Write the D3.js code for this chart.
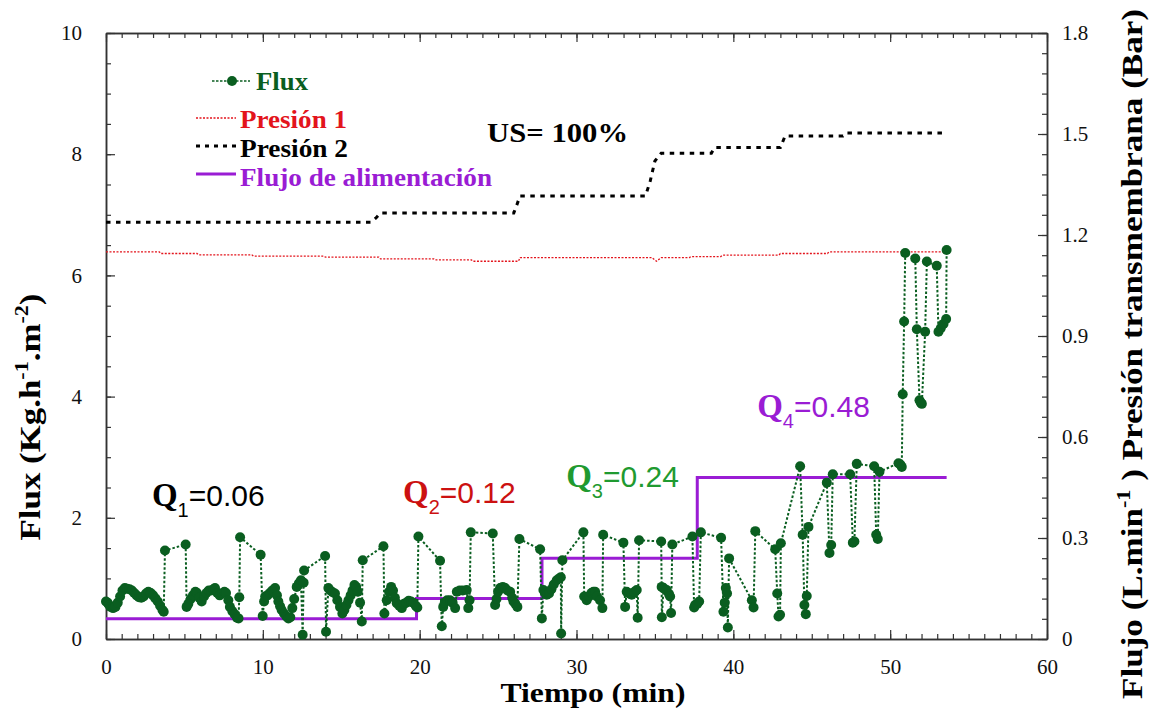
<!DOCTYPE html>
<html>
<head>
<meta charset="utf-8">
<script src="https://cdn.jsdelivr.net/npm/d3@7"></script>
<style>
  body { margin: 0; background: #fff; }
  svg { display: block; }
  text { font-family: "Liberation Serif", "Times New Roman", serif; }
</style>
</head>
<body>
<svg id="chart"></svg>
<script>
// ---- data ----
// flux samples: [tiempo (min), flux (Kg.h-1.m-2)]
const fluxData = [
  [0.0,0.62],[0.1,0.6],[0.2,0.56],[0.3,0.53],[0.45,0.51],[0.6,0.53],[0.75,0.6],[0.9,0.7],[1.05,0.8],[1.2,0.84],
  [1.35,0.83],[1.5,0.82],[1.65,0.8],[1.8,0.76],[1.95,0.72],[2.1,0.69],[2.25,0.68],[2.4,0.7],[2.55,0.75],[2.7,0.78],
  [2.85,0.76],[3.0,0.72],[3.15,0.67],[3.3,0.62],[3.45,0.55],[3.6,0.48],[3.68,0.45],
  [3.76,1.46],[5.08,1.56],
  [5.14,0.53],[5.25,0.58],[5.4,0.66],[5.55,0.72],[5.7,0.78],[5.8,0.76],[5.95,0.68],[6.1,0.62],[6.25,0.7],[6.4,0.76],
  [6.55,0.8],[6.7,0.8],[6.85,0.82],[6.95,0.84],[7.1,0.76],[7.25,0.72],[7.4,0.75],[7.55,0.78],[7.65,0.76],[7.8,0.64],
  [7.9,0.53],[8.05,0.46],[8.2,0.41],[8.35,0.35],[8.45,0.34],[8.5,0.69],
  [8.55,1.68],[9.86,1.39],
  [9.99,0.38],[10.08,0.62],[10.15,0.7],[10.3,0.72],[10.45,0.76],[10.6,0.8],[10.78,0.84],[10.9,0.72],[10.99,0.62],
  [11.1,0.54],[11.2,0.48],[11.35,0.42],[11.5,0.37],[11.63,0.34],[11.75,0.36],[11.88,0.51],[12.0,0.66],[12.16,0.86],
  [12.3,0.92],[12.43,0.97],[12.54,0.07],[12.6,0.93],[12.63,1.13],
  [13.97,1.37],
  [14.03,0.12],[14.18,0.84],[14.3,0.8],[14.45,0.77],[14.6,0.75],[14.75,0.64],[14.92,0.53],[15.07,0.42],[15.2,0.48],
  [15.33,0.56],[15.46,0.64],[15.6,0.72],[15.72,0.8],[15.84,0.89],[15.95,0.86],[16.05,0.78],[16.2,0.6],[16.31,0.29],
  [16.37,1.30],[17.69,1.53],
  [17.75,0.42],[17.9,0.64],[18.05,0.78],[18.18,0.86],[18.3,0.8],[18.42,0.68],[18.54,0.59],[18.7,0.55],[18.86,0.51],
  [19.0,0.58],[19.15,0.6],[19.3,0.63],[19.45,0.62],[19.6,0.6],[19.75,0.55],[19.85,0.52],
  [19.92,1.69],[21.3,1.29],
  [21.41,0.21],[21.5,0.53],[21.6,0.6],[21.75,0.64],[21.94,0.64],[22.1,0.6],[22.26,0.51],[22.37,0.78],[22.55,0.8],
  [22.75,0.8],[23.0,0.81],[23.1,0.51],[23.18,0.64],
  [23.26,1.76],[24.66,1.74],
  [24.81,0.56],[24.9,0.66],[25.0,0.78],[25.13,0.84],[25.3,0.86],[25.45,0.84],[25.6,0.8],[25.77,0.78],[25.9,0.68],
  [25.98,0.62],[26.1,0.58],[26.23,0.53],
  [26.36,1.65],[27.68,1.48],
  [27.79,0.34],[27.89,0.81],[28.0,0.76],[28.1,0.73],[28.25,0.75],[28.4,0.82],[28.55,0.9],[28.74,0.97],[28.9,1.0],
  [29.0,1.02],[29.02,0.09],[29.1,1.30],
  [30.44,1.76],
  [30.49,0.70],[30.65,0.64],[30.8,0.7],[30.95,0.76],[31.08,0.78],[31.19,0.78],[31.3,0.7],[31.5,0.64],[31.65,0.51],
  [31.7,1.72],[32.99,1.59],
  [33.1,0.53],[33.2,0.78],[33.35,0.75],[33.52,0.73],[33.7,0.78],[33.84,0.81],[33.9,0.35],
  [33.99,1.63],[35.4,1.61],
  [35.43,0.86],[35.44,0.36],[35.55,0.84],[35.75,0.81],[35.9,0.74],[35.97,0.70],[36.03,0.43],
  [36.11,1.56],[37.39,1.69],
  [37.5,0.52],[37.56,0.56],[37.7,0.58],[37.82,0.62],
  [37.93,1.76],[39.22,1.67],
  [39.37,0.45],[39.45,0.6],[39.52,0.84],[39.6,0.75],[39.65,0.19],[39.73,1.33],
  [41.18,0.64],[41.29,0.52],
  [41.4,1.78],[42.67,1.48],[42.8,0.75],[42.88,0.37],[42.98,0.40],[43.03,1.58],
  [44.26,2.85],[44.42,1.72],[44.53,0.56],[44.62,0.41],[44.68,0.71],[44.79,1.85],
  [45.96,2.58],[46.13,1.42],[46.24,1.55],[46.34,2.72],
  [47.45,2.72],[47.62,1.59],[47.72,1.61],[47.87,2.89],
  [48.98,2.85],[49.11,1.72],[49.21,1.65],[49.32,2.76],
  [50.53,2.90],[50.65,2.88],[50.74,2.84],[50.8,4.04],[50.89,5.24],[50.96,6.37],
  [51.6,6.28],[51.7,5.11],[51.87,3.94],[51.95,3.9],[52.02,3.88],[52.23,5.07],[52.34,6.23],
  [52.97,6.16],[53.08,5.07],[53.23,5.13],[53.4,5.2],[53.57,5.28],[53.6,6.42]
];

// presión 1 (Bar): [tiempo, valor]
const presion1 = [
  [0,1.150],[3.4,1.150],[3.5,1.145],[5.8,1.145],[5.9,1.141],[9.3,1.141],[9.4,1.137],[13.9,1.137],[14.0,1.134],
  [17.4,1.134],[17.5,1.129],[20.9,1.129],[21.0,1.126],[23.3,1.126],[23.4,1.122],[26.3,1.122],[26.4,1.133],
  [34.8,1.133],[35.1,1.122],[35.4,1.133],[37.2,1.133],[37.3,1.136],[39.2,1.136],[39.3,1.140],[42.9,1.140],
  [43.0,1.145],[46.0,1.145],[46.1,1.150],[53.6,1.150]
];

// presión 2 (Bar)
const presion2 = [
  [0,1.238],[16.9,1.238],[17.2,1.25],[17.5,1.265],[26.0,1.265],[26.2,1.29],[26.4,1.316],[34.4,1.316],
  [34.7,1.36],[35.0,1.42],[35.4,1.443],[38.6,1.443],[38.8,1.46],[43.0,1.46],[43.3,1.494],[47.0,1.494],
  [47.2,1.503],[53.6,1.503]
];

// flujo de alimentación (L.min-1), escalones
const flujoStart = [0, 19.8, 27.8, 37.7];
const flujoValue = [0.06, 0.12, 0.24, 0.48];
const flujoEnd = 53.6;

const xTicks = [0, 10, 20, 30, 40, 50, 60];
const yTicks = [0, 2, 4, 6, 8, 10];
const y2Ticks = [0, 0.3, 0.6, 0.9, 1.2, 1.5, 1.8];

const qSubs = ["1", "2", "3", "4"];
const qVals = ["=0.06", "=0.12", "=0.24", "=0.48"];

// ---- layout ----
const W = 1156, H = 711;
const L = 106, R = 1047, T = 33, B = 639;
const green = "#0a5e20", purple = "#9a1cd4", red = "#e3141c";

const svg = d3.select("#chart").attr("width", W).attr("height", H);
svg.append("rect").attr("width", W).attr("height", H).attr("fill", "#fff");

const x = d3.scaleLinear().domain([0, 60]).range([L, R]);
const y = d3.scaleLinear().domain([0, 10]).range([B, T]);
const y2 = d3.scaleLinear().domain([0, 1.8]).range([B, T]);

// axes: minor + major ticks, all pointing inward
function styleAxis(g) {
  g.selectAll("path.domain").attr("stroke", "#333").attr("stroke-width", 1.5);
  g.selectAll("line").attr("stroke", "#333").attr("stroke-width", 1.2);
  g.selectAll("text").attr("font-family", "Liberation Serif, serif").attr("font-size", 21).attr("fill", "#111");
}

svg.append("g").attr("transform", `translate(0,${B})`)
  .call(d3.axisBottom(x).tickValues(d3.range(0, 61, 1)).tickSize(-5).tickSizeOuter(0).tickFormat(""))
  .call(styleAxis);
svg.append("g").attr("transform", `translate(0,${B})`)
  .call(d3.axisBottom(x).tickValues(xTicks).tickSize(-9).tickSizeOuter(0).tickPadding(20).tickFormat(d3.format("d")))
  .call(styleAxis);
svg.append("g").attr("transform", `translate(0,${T})`)
  .call(d3.axisTop(x).tickValues(d3.range(0, 61, 1)).tickSize(-5).tickSizeOuter(0).tickFormat(""))
  .call(styleAxis);
svg.append("g").attr("transform", `translate(0,${T})`)
  .call(d3.axisTop(x).tickValues(xTicks).tickSize(-9).tickSizeOuter(0).tickFormat(""))
  .call(styleAxis);

svg.append("g").attr("transform", `translate(${L},0)`)
  .call(d3.axisLeft(y).tickValues(d3.range(0, 10.01, 0.5)).tickSize(-5).tickSizeOuter(0).tickFormat(""))
  .call(styleAxis);
svg.append("g").attr("transform", `translate(${L},0)`)
  .call(d3.axisLeft(y).tickValues(yTicks).tickSize(-9).tickSizeOuter(0).tickPadding(24).tickFormat(d3.format("d")))
  .call(styleAxis);

svg.append("g").attr("transform", `translate(${R},0)`)
  .call(d3.axisRight(y2).tickValues(d3.range(0, 1.801, 0.06)).tickSize(-5).tickSizeOuter(0).tickFormat(""))
  .call(styleAxis);
svg.append("g").attr("transform", `translate(${R},0)`)
  .call(d3.axisRight(y2).tickValues(y2Ticks).tickSize(-9).tickSizeOuter(0).tickPadding(15)
    .tickFormat(d => d === 0 ? "0" : d3.format(".1f")(d)))
  .call(styleAxis);

// ---- series ----
const linePress = d3.line().x(d => x(d[0])).y(d => y2(d[1]));

svg.append("path").datum(presion1)
  .attr("d", linePress).attr("fill", "none")
  .attr("stroke", red).attr("stroke-width", 1.3).attr("stroke-dasharray", "2,1.5");

svg.append("path").datum(presion2)
  .attr("d", linePress).attr("fill", "none")
  .attr("stroke", "#000").attr("stroke-width", 3).attr("stroke-dasharray", "4.5,5.5");

const flujoPts = flujoStart.map((t, i) => [t, flujoValue[i]]).concat([[flujoEnd, flujoValue[flujoValue.length - 1]]]);
svg.append("path").datum(flujoPts)
  .attr("d", d3.line().x(d => x(d[0])).y(d => y2(d[1])).curve(d3.curveStepAfter))
  .attr("fill", "none").attr("stroke", purple).attr("stroke-width", 3);

svg.append("path").datum(fluxData)
  .attr("d", d3.line().x(d => x(d[0])).y(d => y(d[1])))
  .attr("fill", "none").attr("stroke", green).attr("stroke-width", 2)
  .attr("stroke-dasharray", "2.5,2");

svg.append("g").selectAll("circle").data(fluxData).join("circle")
  .attr("cx", d => x(d[0])).attr("cy", d => y(d[1])).attr("r", 5)
  .attr("fill", green);

// ---- legend ----
const leg = svg.append("g").attr("font-weight", "bold").attr("font-size", 25);
leg.append("line").attr("x1", 212).attr("x2", 250).attr("y1", 81).attr("y2", 81)
  .attr("stroke", green).attr("stroke-width", 1.5).attr("stroke-dasharray", "2.5,1.5");
leg.append("circle").attr("cx", 232).attr("cy", 81).attr("r", 5).attr("fill", green);
leg.append("text").attr("x", 256).attr("y", 90).attr("fill", green)
  .attr("textLength", 52).attr("lengthAdjust", "spacingAndGlyphs").text("Flux");

leg.append("line").attr("x1", 196).attr("x2", 236).attr("y1", 118).attr("y2", 118)
  .attr("stroke", red).attr("stroke-width", 1.3).attr("stroke-dasharray", "2,1.5");
leg.append("text").attr("x", 240).attr("y", 128).attr("fill", red)
  .attr("textLength", 107).attr("lengthAdjust", "spacingAndGlyphs").text("Presión 1");

leg.append("line").attr("x1", 196).attr("x2", 236).attr("y1", 146).attr("y2", 146)
  .attr("stroke", "#000").attr("stroke-width", 3).attr("stroke-dasharray", "4,5");
leg.append("text").attr("x", 240).attr("y", 157).attr("fill", "#000")
  .attr("textLength", 108).attr("lengthAdjust", "spacingAndGlyphs").text("Presión 2");

leg.append("line").attr("x1", 196).attr("x2", 236).attr("y1", 174).attr("y2", 174)
  .attr("stroke", purple).attr("stroke-width", 3);
leg.append("text").attr("x", 240).attr("y", 186).attr("fill", purple)
  .attr("textLength", 252).attr("lengthAdjust", "spacingAndGlyphs").text("Flujo de alimentación");

svg.append("text").attr("x", x(24.3)).attr("y", y(8.2))
  .attr("font-weight", "bold").attr("font-size", 28)
  .attr("textLength", 141).attr("lengthAdjust", "spacingAndGlyphs").text("US= 100%");

// ---- Q annotations ----
const qAnchor = [[2.93, 2.19], [18.94, 2.24], [29.34, 2.51], [41.52, 3.66]];
const qColor = ["#000", "#cc1111", "#1f9a30", purple];
qSubs.forEach((s, i) => {
  const t = svg.append("text").attr("x", x(qAnchor[i][0])).attr("y", y(qAnchor[i][1])).attr("fill", qColor[i]);
  t.append("tspan").attr("font-weight", "bold").attr("font-size", 33).text("Q");
  t.append("tspan").attr("font-family", "Liberation Sans, Arial, sans-serif").attr("font-size", 20)
    .attr("dy", 11).text(s);
  t.append("tspan").attr("font-family", "Liberation Sans, Arial, sans-serif").attr("font-size", 30)
    .attr("dy", -11).text(qVals[i]);
});

// ---- axis titles ----
svg.append("text").attr("x", 593).attr("y", 702)
  .attr("text-anchor", "middle").attr("font-weight", "bold").attr("font-size", 28)
  .attr("textLength", 185).attr("lengthAdjust", "spacingAndGlyphs")
  .text("Tiempo (min)");

const yl = svg.append("text").attr("transform", "translate(40,417) rotate(-90)")
  .attr("text-anchor", "middle").attr("font-weight", "bold").attr("font-size", 30)
  .attr("textLength", 247).attr("lengthAdjust", "spacingAndGlyphs");
yl.append("tspan").text("Flux (Kg.h");
yl.append("tspan").attr("font-size", 19).attr("dy", -12).text("-1");
yl.append("tspan").attr("dy", 12).text(".m");
yl.append("tspan").attr("font-size", 19).attr("dy", -12).text("-2");
yl.append("tspan").attr("dy", 12).text(")");

const yr = svg.append("text").attr("transform", "translate(1142,354) rotate(-90)")
  .attr("text-anchor", "middle").attr("font-weight", "bold").attr("font-size", 30)
  .attr("textLength", 690).attr("lengthAdjust", "spacingAndGlyphs");
yr.append("tspan").text("Flujo  (L.min");
yr.append("tspan").attr("font-size", 19).attr("dy", -12).text("-1");
yr.append("tspan").attr("dy", 12).text(" )   Presión transmembrana (Bar)");
</script>
</body>
</html>
